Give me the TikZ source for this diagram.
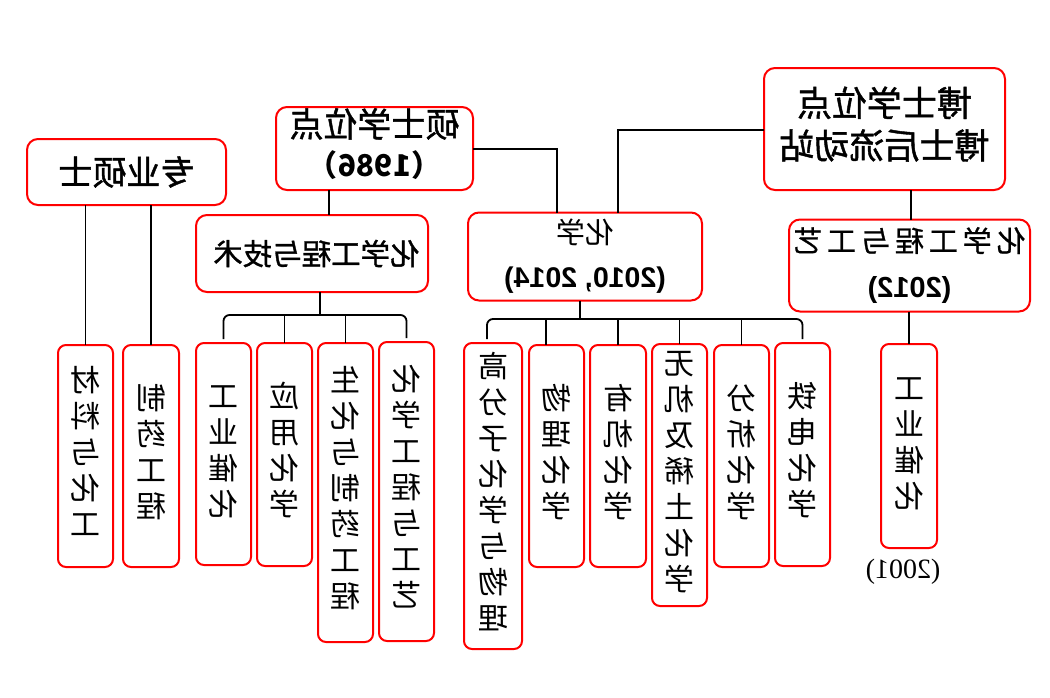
\documentclass[tikz,border=0pt]{standalone}
\usepackage{fontspec}
\usepackage{graphicx}
\setmainfont{Liberation Serif}
\newfontfamily\cjk{Noto Sans CJK SC}
\newfontfamily\cjkB[FakeBold=1.2]{Noto Sans CJK SC}
\newfontfamily\cjkw[LetterSpace=17,FakeBold=0.8]{Noto Sans CJK SC}
\newfontfamily\arl{Liberation Sans}
\newcommand\mir[1]{\reflectbox{#1}}
\newcommand\vt[1]{\reflectbox{\fontsize{30}{36}\selectfont\cjk\begin{tabular}{@{}c@{}}#1\end{tabular}}}
\tikzset{
  box/.style={draw=red, line width=2pt, rounded corners=11pt, fill=white, inner sep=0pt, outer sep=0pt},
  vbox/.style={draw=red, line width=2pt, rounded corners=8pt, fill=white, inner sep=0pt, outer sep=0pt},
  conn/.style={draw=black, line width=1.8pt},
}
\begin{document}
\begin{tikzpicture}[x=1pt,y=-1pt]
\useasboundingbox[fill=white] (0,0) rectangle (1050,697);
% top level
\node[box, minimum width=199pt, minimum height=66pt] (zy) at (126.5,172)
  {\mir{\fontsize{34}{40}\selectfont\cjkB 专业硕士}};
\node[box, minimum width=197pt, minimum height=83pt] (ss) at (374.5,148.5)
  {\mir{\fontsize{34}{40}\selectfont\cjkB\begin{tabular}{@{}c@{}}硕士学位点\\{\cjk\fontsize{30}{40}\selectfont\bfseries （1986）}\end{tabular}}};
\node[box, minimum width=241pt, minimum height=122pt] (bs) at (884.5,129)
  {\mir{\fontsize{35}{42.5}\selectfont\cjkB\begin{tabular}{@{}c@{}}博士学位点\\博士后流动站\end{tabular}}};
% second level
\node[box, minimum width=232pt, minimum height=77pt] (hgjs) at (312,253.5)
  {\mir{\fontsize{29.5}{36}\selectfont\cjkB 化学工程与技术\hspace{9pt}}};
\node[box, minimum width=234pt, minimum height=81pt] (hx) at (585,256.5)
  {\mir{\fontsize{29}{44}\selectfont\cjk\begin{tabular}{@{}c@{}}化学\\{\arl\bfseries\fontsize{28.5}{44}\selectfont (2010, 2014)}\end{tabular}}};
\node[box, minimum width=241pt, minimum height=81pt] (hggy) at (909.5,265.5)
  {\mir{\fontsize{29}{46}\selectfont\cjkw\begin{tabular}{@{}c@{}}化学工程与工艺\\{\arl\bfseries\fontsize{29}{46}\selectfont (2012)\hspace{30pt}}\end{tabular}}};
% bottom level
\node[vbox, minimum width=55pt, minimum height=222pt] (cl) at (85.5,456) {\vt{材\\料\\与\\化\\工}};
\node[vbox, minimum width=56pt, minimum height=222pt] (zyg) at (151,456) {\vt{制\\药\\工\\程}};
\node[vbox, minimum width=55pt, minimum height=222pt] (gc1) at (223.5,454) {\vt{工\\业\\催\\化}};
\node[vbox, minimum width=55pt, minimum height=223pt] (yy) at (284.5,454.5) {\vt{应\\用\\化\\学}};
\node[vbox, minimum width=55pt, minimum height=299pt] (sh) at (345.5,492.5) {\vt{生\\化\\与\\制\\药\\工\\程}};
\node[vbox, minimum width=55pt, minimum height=299pt] (hgy) at (406.5,491.5) {\vt{化\\学\\工\\程\\与\\工\\艺}};
\node[vbox, minimum width=58pt, minimum height=306pt] (gfz) at (493,496) {\vt{高\\分\\子\\化\\学\\与\\物\\理}};
\node[vbox, minimum width=55pt, minimum height=222pt] (wl) at (556.5,456) {\vt{物\\理\\化\\学}};
\node[vbox, minimum width=56pt, minimum height=222pt] (yj) at (618,456) {\vt{有\\机\\化\\学}};
\node[vbox, minimum width=55pt, minimum height=262pt] (wj) at (679.5,475) {\vt{无\\机\\及\\稀\\土\\化\\学}};
\node[vbox, minimum width=55pt, minimum height=222pt] (fx) at (741.5,456) {\vt{分\\析\\化\\学}};
\node[vbox, minimum width=55pt, minimum height=223pt] (td) at (802.5,454.5) {\vt{铁\\电\\化\\学}};
\node[vbox, minimum width=56pt, minimum height=204pt] (gc2) at (909,446) {\raisebox{-10pt}{\vt{工\\业\\催\\化}}};
\node[inner sep=0pt] (y2001) at (903,572) {\mir{\fontsize{28}{32}\selectfont (2001)}};
% connectors
\coordinate (j1) at (557,149);
\draw[conn] (ss.east |- j1) -- (j1) -- (j1 |- hx.north);
\coordinate (j2) at (618,130);
\draw[conn] (bs.west |- j2) -- (j2) -- (j2 |- hx.north);
\coordinate (j3) at (329,0);
\draw[conn] (j3 |- ss.south) -- (j3 |- hgjs.north);
\coordinate (j4) at (911,0);
\draw[conn] (j4 |- bs.south) -- (j4 |- hggy.north);
\draw[conn] (hggy.south -| gc2.north) -- (gc2.north);
\draw[conn] (cl.north |- zy.south) -- (cl.north);
\draw[conn] (zyg.north |- zy.south) -- (zyg.north);
% left bracket
\coordinate (b1) at (320,315);
\draw[conn] (b1 |- hgjs.south) -- (b1);
\draw[conn, rounded corners=6pt] ([yshift=4pt]gc1.north) |- (b1) -| ([yshift=4pt]hgy.north);
\draw[conn] (yy.north |- b1) -- (yy.north);
\draw[conn] (sh.north |- b1) -- (sh.north);
% right bracket
\coordinate (b2) at (580,319);
\draw[conn] (b2 |- hx.south) -- (b2);
\draw[conn, rounded corners=6pt] ([xshift=-6pt,yshift=4pt]gfz.north) |- (b2) -| ([yshift=4pt]td.north);
\coordinate (s1) at (546,0);
\draw[conn] (s1 |- b2) -- (s1 |- wl.north);
\draw[conn] (yj.north |- b2) -- (yj.north);
\draw[conn] (wj.north |- b2) -- (wj.north);
\draw[conn] (fx.north |- b2) -- (fx.north);
\end{tikzpicture}
\end{document}
